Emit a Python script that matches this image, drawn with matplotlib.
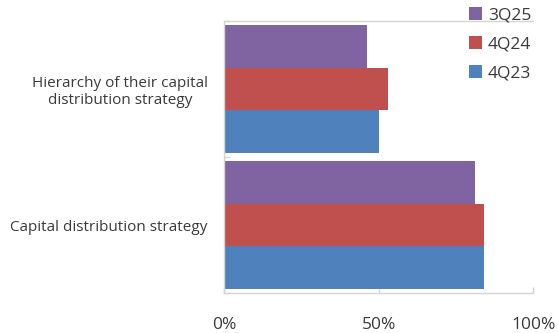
import matplotlib
matplotlib.use("Agg")
import matplotlib.pyplot as plt
from matplotlib.patches import Patch

plt.rcParams['font.family'] = ['Open Sans', 'DejaVu Sans']

categories = ["Capital distribution strategy",
              "Hierarchy of their capital\ndistribution strategy"]
series_names = ["3Q25", "4Q24", "4Q23"]
series_values = {
    "3Q25": [81, 46],
    "4Q24": [84, 53],
    "4Q23": [84, 50],
}
series_colors = {"3Q25": "#8064A2", "4Q24": "#C0504D", "4Q23": "#4F81BD"}
x_ticks = [0, 50, 100]
x_tick_labels = ["0%", "50%", "100%"]

fig = plt.figure(figsize=(5.58, 3.33), dpi=100)
ax = fig.add_axes([0.4023, 0.12, 0.5537, 0.817])

bar_h = 0.315
offsets = {"3Q25": bar_h, "4Q24": 0.0, "4Q23": -bar_h}
ypos = list(range(len(categories)))
for name in series_names:
    ax.barh([y + offsets[name] for y in ypos], series_values[name],
            height=bar_h, color=series_colors[name], zorder=2)

ax.set_xlim(0, 100)
ax.set_ylim(-0.5, len(categories) - 0.5)

text_color = "#3a3a3a"
grid_color = "#d4d4d4"

ax.set_xticks(x_ticks)
ax.set_xticklabels(x_tick_labels, fontsize=12.5, color=text_color)
ax.tick_params(axis="x", direction="in", length=4, width=1, color=grid_color, pad=17)

ax.set_yticks(ypos)
ax.set_yticklabels(categories, fontsize=11.0, color=text_color, ha="right",
                   multialignment="center", linespacing=1.15)
ax.tick_params(axis="y", which="major", length=0, pad=12.0)
ax.set_yticks([-0.5, 0.5, 1.5], minor=True)
ax.tick_params(axis="y", which="minor", direction="in", length=4, width=1, color=grid_color)

for side in ["left", "bottom", "top"]:
    ax.spines[side].set_color(grid_color)
    ax.spines[side].set_linewidth(1)
ax.spines["right"].set_visible(False)

handles = [Patch(facecolor=series_colors[n], edgecolor="none") for n in series_names]
fig.legend(handles, series_names, loc="upper left", bbox_to_anchor=(0.831, 0.994),
           frameon=False, fontsize=12.5, labelcolor=text_color,
           handlelength=0.75, handleheight=0.75, handletextpad=0.35,
           labelspacing=0.72, borderaxespad=0.0, borderpad=0.3)

fig.savefig("out.png", dpi=100)
